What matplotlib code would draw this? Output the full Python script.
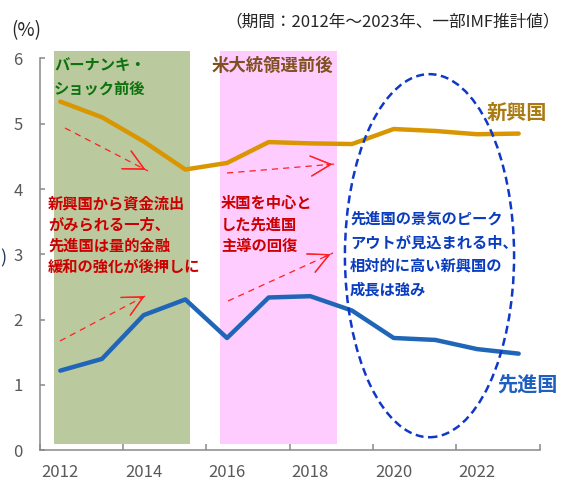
import matplotlib
matplotlib.use("Agg")
import matplotlib.pyplot as plt
from matplotlib.patches import Rectangle, Ellipse
from matplotlib.lines import Line2D

plt.rcParams['font.family'] = ['Noto Sans CJK JP', 'DejaVu Sans']

years = list(range(2012, 2024))
emerging = [5.34, 5.10, 4.73, 4.30, 4.40, 4.72, 4.70, 4.69, 4.92, 4.89, 4.84, 4.85]
advanced = [1.22, 1.40, 2.07, 2.31, 1.72, 2.34, 2.36, 2.14, 1.72, 1.69, 1.55, 1.48]
xlabels = ['2012', '2014', '2016', '2018', '2020', '2022']

W, H = 567, 482
BOLD = 'bold'


def px(x, y):
    # pixel position (from top-left) -> figure fraction
    return (x / W, 1 - y / H)


fig = plt.figure(figsize=(W / 100, H / 100), dpi=100)
ax = fig.add_axes([39.5 / W, 31.7 / H, 500 / W, 401.6 / H])

x = list(range(len(years)))

# shaded periods
ax.add_patch(Rectangle((-0.15, 0.09), 3.26, 6.02, color='#BBC99F', lw=0, zorder=0))
ax.add_patch(Rectangle((3.83, 0.09), 2.80, 6.02, color='#FFCCFF', lw=0, zorder=0))

ax.plot(x, emerging, color='#D99600', lw=3.2, solid_capstyle='round', solid_joinstyle='round', zorder=3)
ax.plot(x, advanced, color='#1F66B8', lw=3.2, solid_capstyle='round', solid_joinstyle='round', zorder=3)

ax.add_patch(Ellipse((8.86, 2.98), 4.06, 5.56, fill=False, ec='#1038C8', lw=1.8,
                     ls=(0, (3.2, 1.8)), zorder=4, clip_on=False))

ax.set_xlim(-0.5, 11.5)
ax.set_ylim(0, 6.15)
ax.set_xticks([-0.5, 1.5, 3.5, 5.5, 7.5, 9.5, 11.5])
ax.set_xticklabels([])
ax.set_xticks(range(0, 12, 2), minor=True)
ax.set_xticklabels(xlabels, minor=True)
ax.set_yticks(range(0, 7))
ax.tick_params(axis='x', which='major', direction='in', length=4.5, width=1.1, color='#898989')
ax.tick_params(axis='x', which='minor', length=0, pad=10, labelsize=12, labelcolor='#595959')
ax.tick_params(axis='y', direction='in', length=3.6, width=1.1, color='#898989',
               pad=12, labelsize=12, labelcolor='#595959')
for s in ['top', 'right']:
    ax.spines[s].set_visible(False)
for s in ['left', 'bottom']:
    ax.spines[s].set_color('#898989')
    ax.spines[s].set_linewidth(1.1)
ax.spines['left'].set_bounds(0, 6)

# texts
fig.text(*px(26, 31), '(%)', fontsize=13.5, color='#262626', ha='center', va='center')
fig.text(*px(560, 22), '（期間：2012年～2023年、一部IMF推計値）', fontsize=12,
         color='#262626', ha='right', va='center')
fig.text(*px(0, 258), ')', fontsize=13, color='#1F3864', ha='left', va='center')

for i, line in enumerate(['バーナンキ・', 'ショック前後']):
    fig.text(*px(54, 65 + i * 24), line, fontsize=11, fontweight=BOLD,
             color='#0C720C', ha='left', va='center')
fig.text(*px(212, 66), '米大統領選前後', fontsize=12.5, fontweight=BOLD,
         color='#7F5020', ha='left', va='center')

red_lines = ['新興国から資金流出', 'がみられる一方、', '先進国は量的金融', '緩和の強化が後押しに']
for i, line in enumerate(red_lines):
    fig.text(*px(48, 203 + i * 21.3), line, fontsize=11, fontweight=BOLD,
             color='#CC0000', ha='left', va='center')
for i, line in enumerate(['米国を中心と', 'した先進国', '主導の回復']):
    fig.text(*px(221, 203 + i * 21.3), line, fontsize=11, fontweight=BOLD,
             color='#CC0000', ha='left', va='center')

blue_lines = ['先進国の景気のピーク', 'アウトが見込まれる中、', '相対的に高い新興国の', '成長は強み']
for i, line in enumerate(blue_lines):
    fig.text(*px(350, 219 + i * 23.5), line, fontsize=11, fontweight=BOLD,
             color='#0A3CC0', ha='left', va='center')

fig.text(*px(517, 112), '新興国', fontsize=14.5, fontweight=BOLD, color='#A97B12',
         ha='center', va='center')
fig.text(*px(527, 384), '先進国', fontsize=14.5, fontweight=BOLD, color='#1F5FC0',
         ha='center', va='center')

# red dashed arrows
arrows = [((65, 128), (148, 171)), ((60, 341), (147, 295)),
          ((227, 173), (335, 164)), ((228, 301), (333, 253))]
for (x0, y0), (x1, y1) in arrows:
    a, b = px(x0, y0), px(x1, y1)
    fig.add_artist(Line2D([a[0], b[0]], [a[1], b[1]], transform=fig.transFigure,
                          color='#FF2020', lw=0.9, ls=(0, (5, 4))))
    dx, dy = b[0] - a[0], b[1] - a[1]
    fig.add_artist(plt.annotate('', xy=b, xycoords='figure fraction',
                                xytext=(b[0] - dx * 0.1, b[1] - dy * 0.1),
                                textcoords='figure fraction',
                                arrowprops=dict(arrowstyle='->,head_length=0.9,head_width=0.45',
                                                color='#FF2020', lw=0.9, mutation_scale=16)))

fig.savefig('out.png', dpi=100)
